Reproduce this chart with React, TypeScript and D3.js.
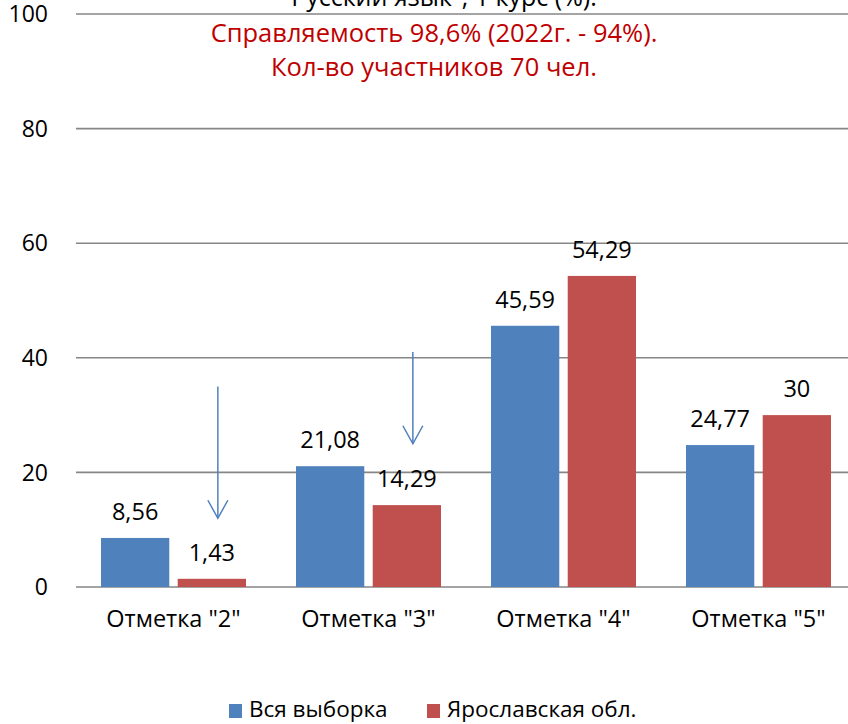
import React from "react";
import * as d3 from "d3";

const categories = ['Отметка "2"', 'Отметка "3"', 'Отметка "4"', 'Отметка "5"'];
const seriesNames = ["Вся выборка", "Ярославская обл."];
const allSample = [8.56, 21.08, 45.59, 24.77];
const yaroslavl = [1.43, 14.29, 54.29, 30];
const yTicks = [0, 20, 40, 60, 80, 100];
const arrowFrom = [35, 41];
const arrowTo = [12, 25];
const titleTop = '"Русский язык", 1 курс (%).';
const subtitle1 = "Справляемость 98,6% (2022г. - 94%).";
const subtitle2 = "Кол-во участников 70 чел.";

const W = 848;
const H = 724;
const FONT = "'Open Sans', sans-serif";
const BLUE = "#4f81bd";
const RED = "#c0504d";

export default function App() {
  const x0 = d3.scaleBand<string>().domain(categories).range([76, 856]).paddingInner(0).paddingOuter(0);
  const x1 = d3.scaleBand<string>().domain(seriesNames).range([25, 170]).paddingInner(0.11);
  const y = d3.scaleLinear().domain([0, 100]).range([587, 14]);
  const series = [allSample, yaroslavl];
  const colors = [BLUE, RED];
  const fmt = (v: number) => String(v).replace(".", ",");

  return (
    <svg width={W} height={H} style={{ position: "absolute", left: 0, top: 0, background: "#fff" }} fontFamily={FONT}>
      {yTicks.map((t) => (
        <g key={t}>
          <line x1={76} x2={W} y1={y(t)} y2={y(t)} stroke="#868686" strokeWidth={1.6} />
          <text x={48} y={y(t)} dy="0.36em" textAnchor="end" fontSize={23} fill="#000">{t}</text>
        </g>
      ))}
      {categories.map((c, i) => (
        <g key={c} transform={`translate(${x0(c)},0)`}>
          {series.map((s, j) => (
            <g key={j}>
              <rect x={x1(seriesNames[j])} y={y(s[i])} width={x1.bandwidth()} height={y(0) - y(s[i])} fill={colors[j]} />
              <text x={(x1(seriesNames[j]) as number) + x1.bandwidth() / 2} y={y(s[i]) - 18} textAnchor="middle" fontSize={23.5} fill="#000">{fmt(s[i])}</text>
            </g>
          ))}
          <text x={x0.bandwidth() / 2} y={627} textAnchor="middle" fontSize={23.5} fill="#000">{c}</text>
        </g>
      ))}
      {arrowFrom.map((a, i) => {
        const cx = (x0(categories[i]) as number) + (x1(seriesNames[1]) as number) + x1.bandwidth() / 2 + 6;
        const yA = y(a);
        const yB = y(arrowTo[i]);
        return (
          <g key={i} stroke={BLUE} strokeWidth={1.5} fill="none">
            <line x1={cx} x2={cx} y1={yA} y2={yB} />
            <polyline points={`${cx - 10},${yB - 18} ${cx},${yB} ${cx + 10},${yB - 18}`} />
          </g>
        );
      })}
      <text x={439} y={6} textAnchor="middle" fontSize={25} fill="#000">{titleTop}</text>
      <text x={434} y={42} textAnchor="middle" fontSize={25.5} fill="#c00000">{subtitle1}</text>
      <text x={434} y={76} textAnchor="middle" fontSize={25.5} fill="#c00000">{subtitle2}</text>
      <g>
        <rect x={229} y={704} width={13} height={14} fill={BLUE} />
        <text x={249} y={717} fontSize={22.5} fill="#000">{seriesNames[0]}</text>
        <rect x={427} y={704} width={13} height={14} fill={RED} />
        <text x={447} y={717} fontSize={22.5} fill="#000">{seriesNames[1]}</text>
      </g>
    </svg>
  );
}
